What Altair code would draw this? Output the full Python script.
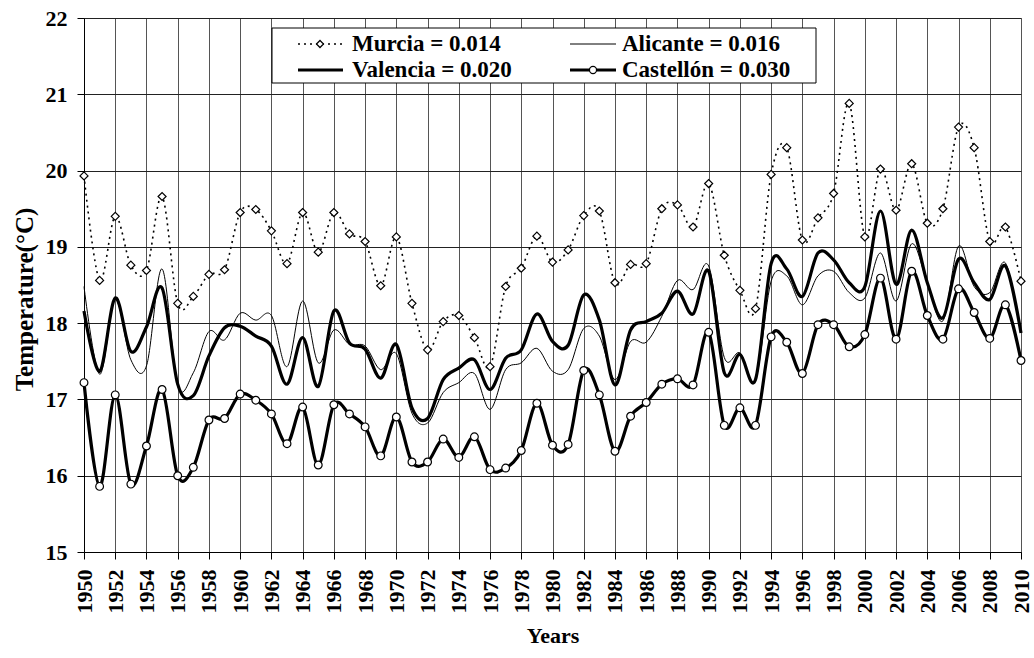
import altair as alt
import pandas as pd

years = list(range(1950, 2011))

murcia = [19.93, 18.56, 19.40, 18.76, 18.69, 19.66, 18.26, 18.35, 18.64, 18.70,
          19.45, 19.49, 19.21, 18.78, 19.45, 18.93, 19.45, 19.17, 19.07, 18.49,
          19.13, 18.26, 17.65, 18.02, 18.10, 17.81, 17.43, 18.48, 18.72, 19.14,
          18.80, 18.96, 19.41, 19.47, 18.53, 18.77, 18.78, 19.50, 19.55, 19.26,
          19.83, 18.89, 18.43, 18.19, 19.95, 20.30, 19.09, 19.38, 19.70, 20.88,
          19.13, 20.02, 19.48, 20.09, 19.31, 19.50, 20.57, 20.30, 19.07, 19.26,
          18.55]

alicante = [18.48, 17.33, 18.31, 17.52, 17.44, 18.71, 17.18, 17.35, 17.89, 17.78,
            18.13, 18.04, 18.10, 17.43, 18.29, 17.48, 17.91, 17.72, 17.70, 17.39,
            17.60, 16.82, 16.69, 17.09, 17.22, 17.34, 16.87, 17.39, 17.48, 17.67,
            17.37, 17.39, 17.93, 17.83, 17.26, 17.76, 17.75, 18.09, 18.56, 18.44,
            18.75, 17.55, 17.61, 17.26, 18.55, 18.62, 18.24, 18.62, 18.68, 18.40,
            18.33, 18.92, 18.29, 19.04, 18.53, 18.03, 19.01, 18.48, 18.40, 18.79,
            17.88]

valencia = [18.16, 17.37, 18.33, 17.63, 17.95, 18.46, 17.20, 17.05, 17.57, 17.94,
            17.96, 17.83, 17.70, 17.20, 17.81, 17.17, 18.16, 17.74, 17.66, 17.28,
            17.72, 16.89, 16.75, 17.26, 17.41, 17.52, 17.13, 17.54, 17.65, 18.12,
            17.76, 17.71, 18.37, 18.04, 17.19, 17.91, 18.02, 18.13, 18.42, 18.12,
            18.68, 17.35, 17.59, 17.26, 18.78, 18.71, 18.35, 18.92, 18.83, 18.53,
            18.48, 19.47, 18.51, 19.22, 18.53, 18.07, 18.84, 18.53, 18.31, 18.75,
            17.87]

castellon = [17.22, 15.86, 17.06, 15.89, 16.39, 17.13, 16.00, 16.11, 16.73, 16.75,
             17.07, 16.99, 16.81, 16.42, 16.90, 16.14, 16.93, 16.81, 16.64, 16.26,
             16.77, 16.18, 16.18, 16.48, 16.24, 16.51, 16.08, 16.10, 16.33, 16.95,
             16.40, 16.41, 17.38, 17.06, 16.32, 16.78, 16.96, 17.20, 17.27, 17.19,
             17.88, 16.66, 16.89, 16.66, 17.82, 17.75, 17.34, 17.98, 17.98, 17.69,
             17.85, 18.59, 17.79, 18.68, 18.10, 17.79, 18.45, 18.14, 17.80, 18.24,
             17.51]

legend_labels = ["Murcia = 0.014", "Alicante = 0.016", "Valencia = 0.020", "Castellón = 0.030"]

x_ticks = list(range(1950, 2011, 2))
y_ticks = list(range(15, 23))

FONT = "Liberation Serif, Times New Roman, Times, serif"

rows = []
for name, vals in [("Murcia", murcia), ("Alicante", alicante),
                   ("Valencia", valencia), ("Castellón", castellon)]:
    for yr, v in zip(years, vals):
        rows.append({"Year": yr, "Temp": v, "Series": name})
df = pd.DataFrame(rows)

W, H = 937, 534

x_enc = alt.X("Year:Q",
              scale=alt.Scale(domain=[1950, 2010], nice=False, zero=False),
              axis=alt.Axis(values=x_ticks, format="d", labelAngle=-90,
                            labelAlign="right", labelBaseline="middle",
                            labelPadding=10, tickSize=7, title="Years",
                            titlePadding=12, grid=True))
y_enc = alt.Y("Temp:Q",
              scale=alt.Scale(domain=[15, 22], nice=False, zero=False),
              axis=alt.Axis(values=y_ticks, format="d", tickSize=7,
                            labelPadding=10, title="Temperature(°C)",
                            titleFontSize=25, titleAngle=270, titleBaseline="middle",
                            titleAlign="center", titleX=-60, titleY=281, grid=True))

base = alt.Chart(df).encode(x=x_enc, y=y_enc)

def series(name):
    return base.transform_filter(alt.datum.Series == name)

alic = series("Alicante").mark_line(interpolate="cardinal", color="black", strokeWidth=1)
vale = series("Valencia").mark_line(interpolate="cardinal", color="black", strokeWidth=3.2)
murc_line = series("Murcia").mark_line(interpolate="cardinal", color="black",
                                        strokeWidth=1.6, strokeDash=[2, 4])
murc_pts = series("Murcia").mark_point(shape="diamond", filled=True, fill="white",
                                       stroke="black", strokeWidth=1.2, size=64, opacity=1)
cast_line = series("Castellón").mark_line(interpolate="cardinal", color="black", strokeWidth=3.2)
cast_pts = series("Castellón").mark_point(shape="circle", filled=True, fill="white",
                                          stroke="black", strokeWidth=1.2, size=60, opacity=1)

one = alt.Data(values=[{"a": 1}])

def box():
    return alt.Chart(one).mark_rect(fill="white", stroke="black", strokeWidth=1).encode(
        x=alt.value(188), x2=alt.value(732), y=alt.value(10), y2=alt.value(65))

def hline(x1, x2, yv, width, dash=None):
    kw = dict(color="black", strokeWidth=width)
    if dash:
        kw["strokeDash"] = dash
    return alt.Chart(one).mark_rule(**kw).encode(
        x=alt.value(x1), x2=alt.value(x2), y=alt.value(yv))

def sym(xv, yv, shape, size):
    return alt.Chart(one).mark_point(shape=shape, filled=True, fill="white", stroke="black",
                                     strokeWidth=1.2, size=size, opacity=1).encode(
        x=alt.value(xv), y=alt.value(yv))

def txt(xv, yv, label):
    return alt.Chart(one).mark_text(text=label, font=FONT, fontSize=23, fontWeight="bold",
                                    align="left", baseline="middle", color="black").encode(
        x=alt.value(xv), y=alt.value(yv))

r1, r2 = 26, 52
legend = [
    box(),
    hline(214, 259, r1, 1.6, [2, 4]), sym(236, r1, "diamond", 50), txt(268, r1, legend_labels[0]),
    hline(486, 532, r1, 1), txt(538, r1, legend_labels[1]),
    hline(214, 259, r2, 3.2), txt(268, r2, legend_labels[2]),
    hline(486, 532, r2, 3.2), sym(509, r2, "circle", 50), txt(538, r2, legend_labels[3]),
]

chart = alt.layer(alic, vale, murc_line, murc_pts, cast_line, cast_pts, *legend).properties(
    width=W, height=H,
    autosize=alt.AutoSizeParams(type="none"),
    padding={"left": 84, "top": 18, "right": 13, "bottom": 106},
    background="white",
).configure_view(stroke="#888888", strokeWidth=1).configure_axis(
    labelFont=FONT, labelFontSize=22, labelFontWeight="bold", labelColor="black",
    titleFont=FONT, titleFontSize=22, titleFontWeight="bold", titleColor="black",
    gridColor="#555555", gridWidth=1, gridOpacity=1,
    domainColor="black", domainWidth=1, tickColor="black", tickWidth=1,
).configure_axisY(gridColor="#222222")

chart.save("out.html", embed_options={"renderer": "svg", "actions": False})
